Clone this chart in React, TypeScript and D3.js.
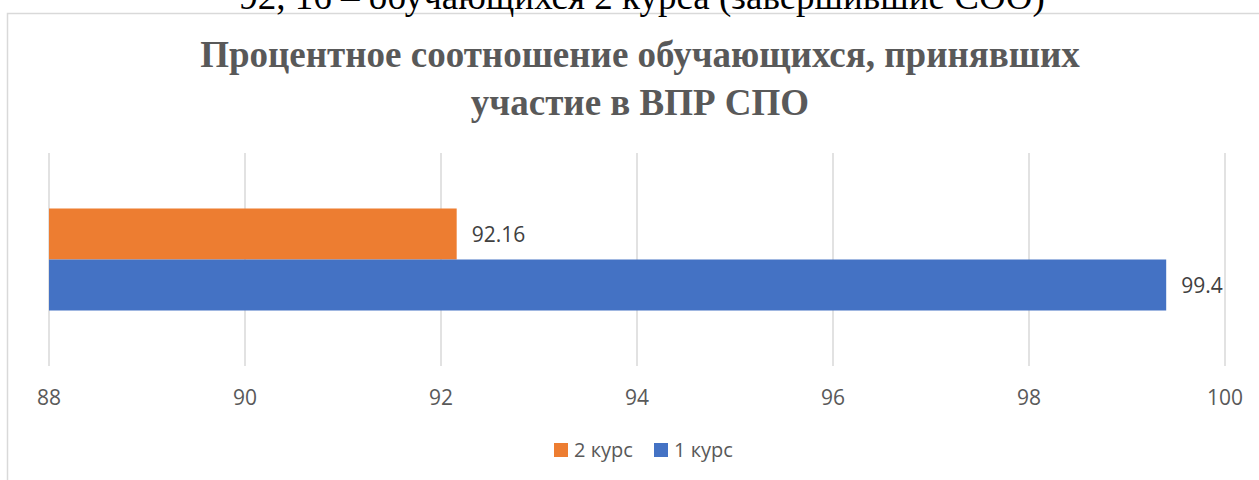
import React from "react";
import * as d3 from "d3";

const categories = ["Курс"];
const seriesNames = ["2 курс", "1 курс"];
const seriesValues = [92.16, 99.4];
const seriesColors = ["#ED7D31", "#4472C4"];
const xTicks = [88, 90, 92, 94, 96, 98, 100];
const titleLines = ["Процентное соотношение обучающихся, принявших", "участие в ВПР СПО"];
const topText = "92, 16 – обучающихся 2 курса (завершившие СОО)";

const W = 1259;
const H = 480;
const plot = { left: 49, right: 1225, top: 153, bottom: 366 };

export default function App() {
  const x = d3.scaleLinear().domain([88, 100]).range([plot.left, plot.right]);
  const yCat = d3
    .scaleBand<string>()
    .domain(categories)
    .range([plot.top, plot.bottom])
    .paddingInner(0)
    .paddingOuter(0.544);
  const ySer = d3
    .scaleBand<string>()
    .domain(seriesNames)
    .range([0, yCat.bandwidth()]);
  const sans = "'Open Sans', 'Noto Sans', sans-serif";
  const serif = "'Liberation Serif', 'Times New Roman', serif";
  const legendItems = seriesNames.map((n, i) => ({ n, c: seriesColors[i] }));
  const legendX = [554, 654];
  return (
    <svg
      width={W}
      height={H}
      style={{ position: "absolute", left: 0, top: 0, background: "#fff" }}
    >
      <rect x={7.5} y={13.5} width={W} height={H} fill="#fff" stroke="#d9d9d9" strokeWidth={1.5} />
      <text x={642} y={9} textAnchor="middle" fontFamily={serif} fontSize={37} fill="#000">
        {topText}
      </text>
      {titleLines.map((t, i) => (
        <text
          key={i}
          x={640}
          y={67 + i * 48}
          textAnchor="middle"
          fontFamily={serif}
          fontWeight="bold"
          fontSize={37}
          fill="#595959"
        >
          {t}
        </text>
      ))}
      {xTicks.map((t) => (
        <g key={t}>
          <line x1={x(t)} x2={x(t)} y1={plot.top} y2={plot.bottom} stroke="#d9d9d9" strokeWidth={1.5} />
          <text x={x(t)} y={405} textAnchor="middle" fontFamily={sans} fontSize={21} fill="#595959">
            {t}
          </text>
        </g>
      ))}
      {categories.map((c) => (
        <g key={c} transform={`translate(0,${yCat(c)})`}>
          {seriesNames.map((s, i) => {
            const y0 = ySer(s)!;
            const bw = ySer.bandwidth();
            const v = seriesValues[i];
            return (
              <g key={s}>
                <rect x={x(88)} y={y0} width={x(v) - x(88)} height={bw} fill={seriesColors[i]} />
                <text
                  x={x(v) + 15}
                  y={y0 + bw / 2}
                  dy="0.36em"
                  fontFamily={sans}
                  fontSize={21}
                  fill="#404040"
                >
                  {String(v)}
                </text>
              </g>
            );
          })}
        </g>
      ))}
      {legendItems.map((it, i) => (
        <g key={it.n}>
          <rect x={legendX[i]} y={443} width={14} height={14} fill={it.c} />
          <text x={legendX[i] + 20} y={450} dy="0.36em" fontFamily={sans} fontSize={20} fill="#595959">
            {it.n}
          </text>
        </g>
      ))}
    </svg>
  );
}
